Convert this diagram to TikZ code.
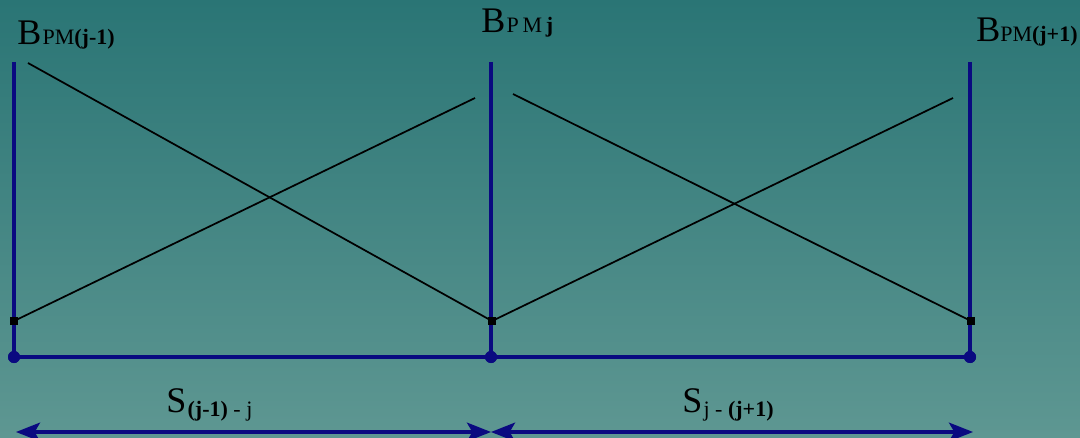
\documentclass[tikz,border=0pt]{standalone}
\usepackage{fontspec}
\setmainfont{Liberation Serif}
\usetikzlibrary{arrows.meta}
\definecolor{bgtop}{HTML}{2A7575}
\definecolor{bgbot}{HTML}{5E9792}
\definecolor{navy}{HTML}{0A0A80}
\tikzset{
  post/.style={navy, line width=2.6pt},
  diag/.style={black, line width=1.3pt},
  dim/.style={navy, line width=2.6pt, {Stealth[length=18pt,width=14pt,inset=4pt]}-{Stealth[length=18pt,width=14pt,inset=4pt]}},
  bdot/.style={circle, fill=navy, inner sep=0pt, minimum size=9pt},
  kdot/.style={rectangle, fill=black, inner sep=0pt, minimum size=6pt},
  lab/.style={inner sep=0pt, anchor=base west, font=\fontsize{27}{30}\selectfont}
}
\newcommand{\subsz}{\fontsize{16.5}{18}\selectfont}
\begin{document}
\begin{tikzpicture}[x=0.75pt,y=-0.75pt]
\useasboundingbox (0,0) rectangle (1080,438);
\shade[top color=bgtop, bottom color=bgbot] (0,0) rectangle (1080,438);
% coordinates
\coordinate (t1) at (14,62);
\coordinate (t2) at (491,62);
\coordinate (t3) at (970,62);
\node[kdot] (k1) at (14,321) {};
\node[kdot] (k2) at (492,321) {};
\node[kdot] (k3) at (971,321) {};
\node[bdot] (b1) at (14,357) {};
\node[bdot] (b2) at (491,357) {};
\node[bdot] (b3) at (970,357) {};
\coordinate (d1s) at (28,63);
\coordinate (d2e) at (475,98);
\coordinate (d3s) at (513,94);
\coordinate (d4e) at (953,98);
\coordinate (a1) at (16,432);
\coordinate (a2) at (491,432);
\coordinate (a3) at (973,432);
% posts
\draw[post] (t1) -- (b1.center);
\draw[post] (t2) -- (b2.center);
\draw[post] (t3) -- (b3.center);
\draw[post] (b1.center) -- (b2.center) -- (b3.center);
% diagonals
\draw[diag] (d1s) -- (k2.center);
\draw[diag] (k1.center) -- (d2e);
\draw[diag] (d3s) -- (k3.center);
\draw[diag] (k2.center) -- (d4e);
% redraw dots on top
\node[kdot] at (k1) {};
\node[kdot] at (k2) {};
\node[kdot] at (k3) {};
\node[bdot] at (b1) {};
\node[bdot] at (b2) {};
\node[bdot] at (b3) {};
% dimension arrows
\draw[dim] (a1) -- (a2);
\draw[dim] (a2) -- (a3);
% labels
\node[lab] (L1) at (17,45) {B\kern1pt{\subsz PM\textbf{(j-1)}}};
\node[lab] (L2) at (481,33) {B\kern1pt{\subsz P\,M\,\textbf{j}}};
\node[lab] (L3) at (976,42) {B{\subsz PM\textbf{(j+1)}}};
\node[lab] (S1) at (166,412) {S\kern1pt{\subsz\raisebox{-3pt}{\textbf{(j-1)} - j}}};
\node[lab] (S2) at (682,412) {S\kern1pt{\subsz\raisebox{-3pt}{j - \textbf{(j+1)}}}};
\end{tikzpicture}
\end{document}
